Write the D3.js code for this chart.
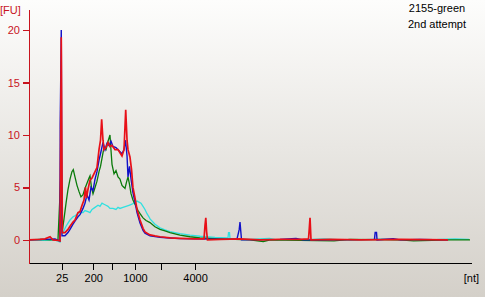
<!DOCTYPE html>
<html><head><meta charset="utf-8">
<script src="https://cdn.jsdelivr.net/npm/d3@7"></script>
<style>
html,body{margin:0;padding:0;}
svg{display:block;}
</style></head>
<body>
<svg id="c" width="485" height="297"></svg>
<script>
// ---- data (x = migration time in s, y = fluorescence units) ----
const ladderSizes = [25, 200, 500, 1000, 2000, 4000];
const ladderTimes = [22.70, 26.27, 28.36, 30.99, 33.90, 37.78];
const ladderLabels = ["25", "200", "", "1000", "", "4000"];
const yTicks = [0, 5, 10, 15, 20];
const titleLines = ["2155-green", "2nd attempt"];
const yUnit = "[FU]";
const xUnit = "[nt]";

const cyanTrace = [
 [19.00,0.0],[20.81,-0.05],[21.94,0.0],[22.51,-0.2],[22.65,9.7],[22.79,0.6],[22.96,0.9],[23.19,1.3],
 [23.41,1.6],[23.64,1.9],[23.98,2.2],[24.20,2.3],[24.54,2.5],[24.77,2.6],[25.11,2.6],[25.33,2.8],
 [25.67,2.7],[25.90,2.6],[26.13,2.9],[26.47,3.1],[26.81,3.3],[27.03,3.2],[27.26,3.5],[27.48,3.4],
 [27.71,3.3],[27.94,3.2],[28.16,3.0],[28.50,3.0],[28.84,2.9],[29.07,3.1],[29.29,3.0],[29.63,3.1],
 [29.97,3.2],[30.31,3.3],[30.65,3.4],[30.99,3.6],[31.22,3.7],[31.44,3.6],[31.67,3.5],[31.90,3.2],
 [32.12,2.9],[32.35,2.5],[32.57,2.2],[32.69,2.0],[33.25,1.5],[33.82,1.15],[34.38,0.95],[34.95,0.8],
 [36.08,0.6],[37.21,0.45],[38.34,0.35],[40.04,0.25],[41.51,0.2],[41.57,0.7],[41.68,0.7],[41.74,0.1],
 [44.00,0.05],[46.2,0.15],[47.0,0.0],[49.66,0.0],[52.4,0.1],[55.31,-0.05],[58.9,0.1],[60.97,0.0],
 [63.8,-0.05],[65.49,0.05],[67.19,0.1],[68.77,0.05]
];
const greenTrace = [
 [19.00,0.0],[20.24,0.05],[21.38,0.0],[22.28,0.05],[22.65,7.0],[22.79,1.0],[22.96,2.0],[23.19,3.5],
 [23.41,4.8],[23.64,5.8],[23.86,6.5],[24.01,6.7],[24.20,6.0],[24.43,5.2],[24.66,4.6],[24.88,4.1],
 [25.11,4.3],[25.33,4.9],[25.56,5.4],[25.79,5.9],[25.90,6.1],[26.07,5.0],[26.24,4.4],[26.47,5.0],
 [26.69,5.6],[26.92,6.5],[27.09,7.0],[27.26,7.8],[27.48,8.8],[27.71,8.6],[27.94,9.4],[28.16,10.0],
 [28.28,8.5],[28.39,7.2],[28.62,6.3],[28.84,6.6],[29.07,6.0],[29.29,5.8],[29.52,5.2],[29.75,5.0],
 [29.86,4.9],[30.03,5.5],[30.20,6.0],[30.37,5.3],[30.54,4.4],[30.76,3.8],[30.99,3.4],[31.33,2.8],
 [31.56,2.5],[31.90,2.1],[32.24,1.85],[32.69,1.65],[33.25,1.25],[33.82,1.0],[34.38,0.85],[34.95,0.7],
 [36.08,0.45],[37.21,0.3],[38.34,0.2],[40.61,0.1],[44.00,0.0],[45.5,-0.15],[46.3,0.0],[49.66,-0.05],
 [53.5,-0.1],[55.31,0.05],[60.97,0.0],[62.5,-0.1],[66.63,0.0],[68.89,0.0]
];
const blueTrace = [
 [19.00,0.0],[20.81,0.05],[21.94,0.1],[22.48,-0.1],[22.53,9.2],[22.53,11.0],[22.65,20.0],[22.73,0.4],
 [23.07,0.4],[23.41,0.7],[23.64,1.0],[23.98,1.5],[24.20,1.8],[24.54,2.2],[24.77,2.4],[25.11,3.0],
 [25.33,3.5],[25.56,4.3],[25.79,3.8],[26.01,5.0],[26.24,4.7],[26.47,5.8],[26.69,6.5],[26.92,7.6],
 [27.14,8.4],[27.37,9.3],[27.60,8.6],[27.82,9.2],[28.05,9.0],[28.28,9.4],[28.50,8.9],[28.84,8.8],
 [29.18,8.5],[29.52,8.2],[29.75,8.6],[29.92,9.5],[30.09,8.0],[30.20,6.0],[30.37,7.0],[30.54,5.8],
 [30.76,4.5],[30.99,3.6],[31.22,2.6],[31.56,1.6],[31.90,0.9],[32.12,0.65],[32.69,0.4],[33.25,0.32],
 [33.82,0.25],[34.95,0.18],[36.08,0.12],[37.78,0.1],[41.74,0.05],[42.53,0.1],[42.70,0.7],[42.78,1.0],
 [42.87,1.7],[42.96,0.8],[43.04,0.0],[47.39,0.05],[49.2,0.15],[50.0,0.0],[51.92,0.0],[58.08,0.05],
 [58.16,0.7],[58.31,0.7],[58.37,0.0],[60.2,0.12],[61.0,0.0],[63.23,0.05],[66.40,0.0]
];
const redTrace = [
 [19.00,0.0],[20.24,0.05],[20.81,0.1],[21.38,0.3],[21.71,0.0],[22.28,-0.05],[22.51,-0.1],[22.65,19.3],
 [22.77,0.7],[23.07,0.7],[23.41,1.0],[23.64,1.3],[23.98,1.7],[24.20,1.9],[24.54,2.6],[24.77,2.7],
 [25.00,3.3],[25.22,3.8],[25.39,5.0],[25.50,4.0],[25.67,4.8],[25.90,5.7],[26.13,5.9],[26.47,6.5],
 [26.69,6.9],[26.92,8.6],[27.09,9.5],[27.22,11.5],[27.37,9.5],[27.48,8.6],[27.71,8.8],[27.94,9.3],
 [28.16,8.9],[28.39,9.0],[28.73,8.6],[29.07,8.6],[29.29,8.3],[29.52,8.0],[29.75,8.6],[29.94,12.4],
 [30.09,9.5],[30.20,8.6],[30.42,7.9],[30.60,6.7],[30.76,5.0],[30.99,4.0],[31.22,2.9],[31.56,1.9],
 [31.90,1.1],[32.12,0.76],[32.69,0.48],[33.25,0.38],[33.82,0.3],[34.95,0.2],[36.08,0.15],[37.78,0.1],
 [38.80,0.1],[38.91,1.4],[39.00,2.1],[39.09,0.8],[39.19,0.0],[40.61,0.05],[42.87,0.1],[45.13,0.0],
 [47.39,0.05],[49.66,0.05],[50.62,0.1],[50.71,1.1],[50.79,2.1],[50.90,0.0],[53.05,0.05],[56.44,0.0],
 [60.97,0.05],[66.40,0.0]
];
const series = [
 {name:"cyan", data:cyanTrace, color:"#30e0e0", w:1.3},
 {name:"green", data:greenTrace, color:"#0a7a0a", w:1.3},
 {name:"blue", data:blueTrace, color:"#1010c8", w:1.4},
 {name:"red", data:redTrace, color:"#e81018", w:1.7}
];

// ---- drawing ----
const svg = d3.select("#c");
const W = 485, H = 297;
const defs = svg.append("defs");
const grad = defs.append("linearGradient").attr("id","bg").attr("x1",0).attr("y1",0).attr("x2",0).attr("y2",1);
grad.append("stop").attr("offset","0%").attr("stop-color","#fdfdfc");
grad.append("stop").attr("offset","100%").attr("stop-color","#d4d0c9");
svg.append("rect").attr("width",W).attr("height",H).attr("fill","url(#bg)");

const x = d3.scaleLinear().domain([19, 69]).range([29, 471]);
const y = d3.scaleLinear().domain([-2.2, 22]).range([263, 9]);

const line = d3.line().x(d => x(d[0])).y(d => y(d[1]));
const gLines = svg.append("g");
series.forEach(s => {
  gLines.append("path").datum(s.data).attr("d", line)
    .attr("fill","none").attr("stroke", s.color).attr("stroke-width", s.w)
    .attr("stroke-linejoin","miter");
});

const font = "'Liberation Sans', Arial, sans-serif";
const red = "#c8141e";

// y axis
const yAxis = svg.append("g").attr("transform","translate(29,0)")
  .call(d3.axisLeft(y).tickValues(yTicks).tickSize(6).tickSizeOuter(0).tickPadding(3));
yAxis.selectAll("path,line").attr("stroke", red).attr("stroke-width",1.2).attr("shape-rendering","crispEdges");
yAxis.selectAll("text").attr("fill", red).attr("font-family", font).attr("font-size", 11);
svg.append("text").attr("x",0).attr("y",14).attr("fill",red)
  .attr("font-family",font).attr("font-size",11).text(yUnit);

// x axis
const xAxis = svg.append("g").attr("transform","translate(0,263)")
  .call(d3.axisBottom(x).tickValues(ladderTimes).tickFormat((d,i)=>ladderLabels[i]).tickSize(7).tickSizeOuter(0).tickPadding(4));
xAxis.selectAll("path,line").attr("stroke","#000").attr("shape-rendering","crispEdges");
xAxis.selectAll("text").attr("fill","#000").attr("font-family",font).attr("font-size",11);
svg.append("text").attr("x",479).attr("y",282).attr("text-anchor","end")
  .attr("font-family",font).attr("font-size",11).attr("fill","#000").text(xUnit);

// title
svg.selectAll("text.title").data(titleLines).enter().append("text")
  .attr("class","title").attr("x",437).attr("y",(d,i)=>12+i*16)
  .attr("text-anchor","middle").attr("font-family",font).attr("font-size",11).attr("fill","#000")
  .text(d=>d);
</script>
</body></html>
